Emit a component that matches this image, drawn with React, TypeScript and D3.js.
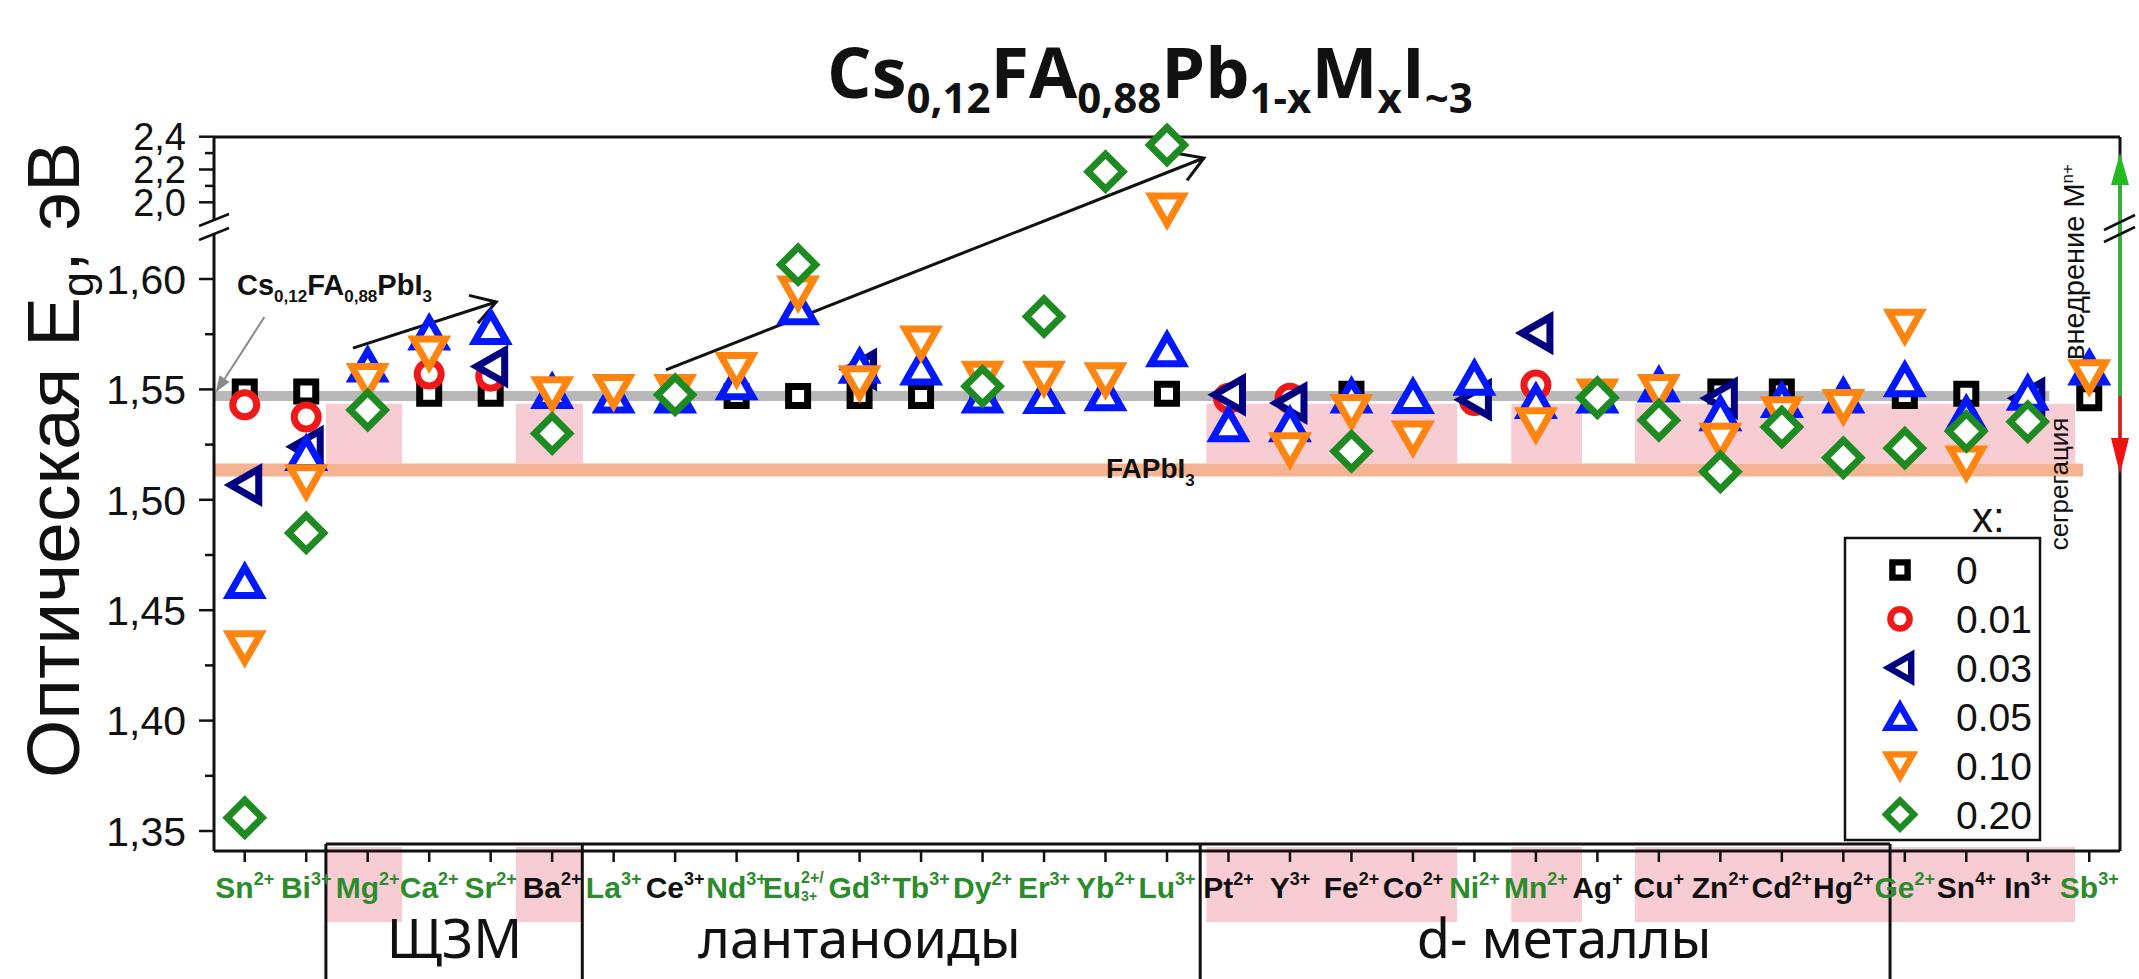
import React from "react";
import * as d3 from "d3";

// ---- categories (dopant ions) ----
const elements = ["Sn", "Bi", "Mg", "Ca", "Sr", "Ba", "La", "Ce", "Nd", "Eu", "Gd", "Tb", "Dy", "Er", "Yb", "Lu",
  "Pt", "Y", "Fe", "Co", "Ni", "Mn", "Ag", "Cu", "Zn", "Cd", "Hg", "Ge", "Sn", "In", "Sb"];
const charges = ["2+", "3+", "2+", "2+", "2+", "2+", "3+", "3+", "3+", "2+/3+", "3+", "3+", "2+", "3+", "2+", "3+",
  "2+", "3+", "2+", "2+", "2+", "2+", "+", "+", "2+", "2+", "2+", "2+", "4+", "3+", "3+"];
const categories = elements.map((e, i) => e + charges[i]);
const greenLabels = ["Sn2+", "Bi3+", "Mg2+", "Ca2+", "Sr2+", "La3+", "Nd3+", "Eu2+/3+", "Gd3+", "Tb3+", "Dy2+",
  "Er3+", "Yb2+", "Lu3+", "Ni2+", "Mn2+", "Ge2+", "Sb3+"];

// ---- optical band gap, eV, per dopant fraction x ----
const xLevels = ["0", "0.01", "0.03", "0.05", "0.10", "0.20"];
const egX000 = [1.549, 1.549, null, 1.548, 1.548, null, null, null, 1.547, 1.547, 1.547, 1.547, 1.547, null, null, 1.548,
  null, null, 1.548, null, null, null, null, null, 1.549, 1.549, null, 1.547, 1.548, null, 1.546];
const egX001 = [1.543, 1.5375, null, 1.557, 1.556, null, null, null, null, null, null, null, null, null, null, null,
  1.546, 1.546, null, null, 1.545, 1.552, null, null, null, null, null, null, null, null, null];
const egX003 = [1.5067, 1.524, null, null, 1.5604, null, null, null, null, null, 1.559, null, null, null, null, null,
  1.5476, 1.5438, null, null, 1.5453, 1.5755, null, null, 1.546, null, null, null, null, 1.546, null];
const egX005 = [1.463, 1.521, 1.561, 1.5755, 1.578, 1.549, 1.547, 1.547, 1.553, 1.587, 1.5605, 1.5597, 1.547, 1.5468, 1.548, 1.568,
  1.534, 1.534, 1.547, 1.5468, 1.5551, 1.5445, 1.547, 1.552, 1.539, 1.545, 1.547, 1.5544, 1.539, 1.5483, 1.5597];
const egX010 = [1.433, 1.5082, 1.554, 1.5665, null, 1.548, 1.549, 1.549, 1.559, 1.5937, 1.553, 1.571, 1.5551, 1.5551, 1.5544, 1.953,
  null, 1.5227, 1.54, 1.528, null, 1.534, 1.547, 1.549, 1.527, 1.539, 1.5423, 1.5786, 1.5167, null, 1.5557];
const egX020 = [1.356, 1.485, 1.5407, null, null, 1.53, null, 1.5476, null, 1.6065, null, null, 1.5514, 1.583, 2.187, 2.349,
  null, null, 1.522, null, null, null, 1.5462, 1.536, 1.5127, 1.533, 1.519, 1.5234, 1.531, 1.5354, null];
const seriesValues = [egX000, egX001, egX003, egX005, egX010, egX020];

// reference band gaps
const EG_CSFA = 1.547; // Cs0.12FA0.88PbI3
const EG_FAPBI3 = 1.5135;

// axis ticks
const lowMajor = [1.35, 1.4, 1.45, 1.5, 1.55, 1.6];
const lowMinor = [1.375, 1.425, 1.475, 1.525, 1.575];
const highMajor = [2.0, 2.2, 2.4];
const highMinor = [2.1, 2.3];

// dopant families
const familyNames = ["ЩЗМ", "лантаноиды", "d- металлы"];

// ---- layout ----
const W = 2139, H = 979;
const L = 214, R = 2120, T = 137, B = 851;
const seriesColor = ["#000000", "#f01818", "#000080", "#0018ff", "#ff8410", "#1e8a22"];
const seriesShape = ["square", "circle", "left", "up", "down", "diamond"];
const LABEL_GREEN = "#2b8c2b";
const FONT = "'Liberation Sans', Arial, Helvetica, sans-serif";

const x = d3.scalePoint<string>().domain(categories).range([L, R]).padding(0.5);
const step = x.step();
const x0 = x(categories[0]) as number;
const xi = (i: number) => x0 + i * step; // fractional category position
const yLow = d3.scaleLinear().domain([1.35, 1.6]).range([831, 279]);
const yHigh = d3.scaleLinear().domain([2.0, 2.4]).range([202.3, 136.7]);
const yv = (v: number) => (v > 1.75 ? yHigh(v) : yLow(v));

function shapePath(kind: string): string {
  switch (kind) {
    case "square": return "M-9.5,-9.5H9.5V9.5H-9.5Z";
    case "circle": return "M12,0A12,12 0 1,1 -12,0A12,12 0 1,1 12,0Z";
    case "left": return "M-14,0L14,-16L14,16Z";
    case "up": return "M0,-14L16,14L-16,14Z";
    case "down": return "M0,14L16,-14L-16,-14Z";
    default: return "M0,-17.5L17.5,0L0,17.5L-17.5,0Z";
  }
}

function openHead(x1: number, y1: number, x2: number, y2: number, len = 28, ang = 0.55) {
  const a = Math.atan2(y1 - y2, x1 - x2);
  const p1 = [x2 + len * Math.cos(a + ang), y2 + len * Math.sin(a + ang)];
  const p2 = [x2 + len * Math.cos(a - ang), y2 + len * Math.sin(a - ang)];
  return `M${p1[0]},${p1[1]}L${x2},${y2}L${p2[0]},${p2[1]}`;
}

function filledHead(x1: number, y1: number, x2: number, y2: number, len = 16, half = 6) {
  const a = Math.atan2(y2 - y1, x2 - x1);
  const bx = x2 - len * Math.cos(a), by = y2 - len * Math.sin(a);
  const nx = -Math.sin(a) * half, ny = Math.cos(a) * half;
  return `M${x2},${y2}L${bx + nx},${by + ny}L${bx - nx},${by - ny}Z`;
}

// trend arrows in data coordinates: [category position, Eg]
const trendArrows: [number, number, number, number][] = [
  [1.76, 1.5687, 4.09, 1.5896],
  [6.85, 1.5588, 15.6, 2.27],
];
// fractional category edges of highlight boxes and family frames
const highlightEdges: [number, number][] = [[1.32, 2.56], [4.41, 5.5], [15.64, 19.72], [20.6, 21.75], [22.61, 29.77]];
const familyEdges = [1.32, 5.49, 15.54, 26.76];
const familyTextPos = [3.41, 10.0, 21.46];

const fmtLow = (v: number) => v.toFixed(2).replace(".", ",");
const fmtHigh = (v: number) => v.toFixed(1).replace(".", ",");

export default function App() {
  const yTop = yLow(1.5435);
  const yBot = yLow(1.5165);
  const labelY = 898;
  return (
    <svg width={W} height={H} style={{ position: "absolute", left: 0, top: 0, background: "#fff" }} fontFamily={FONT}>
      <rect x={0} y={0} width={W} height={H} fill="#fff" />

      {/* title */}
      <text x={1150} y={98} textAnchor="middle" fontFamily="'Open Sans', 'Liberation Sans', sans-serif" fontWeight={700} fontSize={70} fill="#111">
        Cs<tspan fontSize={42} dy={15}>0,12</tspan>
        <tspan dy={-15}>FA</tspan><tspan fontSize={42} dy={15}>0,88</tspan>
        <tspan dy={-15}>Pb</tspan><tspan fontSize={42} dy={15}>1-x</tspan>
        <tspan dy={-15}>M</tspan><tspan fontSize={42} dy={15}>x</tspan>
        <tspan dy={-15}>I</tspan><tspan fontSize={42} dy={15}>~3</tspan>
      </text>

      {/* segregation zone highlights */}
      {highlightEdges.map(([a, b], i) => (
        <g key={"hl" + i}>
          <rect x={xi(a)} y={yTop} width={xi(b) - xi(a)} height={yBot - yTop} fill="#f7ccd3" />
          <rect x={xi(a)} y={847} width={xi(b) - xi(a)} height={75} fill="#f7ccd3" />
        </g>
      ))}

      {/* reference lines */}
      <line x1={L} x2={xi(29.9)} y1={yLow(EG_FAPBI3)} y2={yLow(EG_FAPBI3)} stroke="#f4b393" strokeWidth={13} />
      <line x1={L} x2={xi(29.35)} y1={yLow(EG_CSFA)} y2={yLow(EG_CSFA)} stroke="#b8b8b8" strokeWidth={10} />

      {/* frame */}
      <line x1={L} x2={R} y1={T} y2={T} stroke="#111" strokeWidth={3} />
      <line x1={L} x2={R} y1={B} y2={B} stroke="#111" strokeWidth={3} />
      <line x1={R} x2={R} y1={T} y2={B} stroke="#111" strokeWidth={3} />
      <line x1={L} x2={L} y1={T} y2={219} stroke="#111" strokeWidth={3} />
      <line x1={L} x2={L} y1={233} y2={B} stroke="#111" strokeWidth={3} />
      <line x1={199} y1={226} x2={229} y2={214} stroke="#111" strokeWidth={2.5} />
      <line x1={199} y1={240} x2={229} y2={228} stroke="#111" strokeWidth={2.5} />

      {/* y ticks and labels */}
      {lowMajor.map((v) => (
        <g key={"lM" + v}>
          <line x1={L - 15} x2={L} y1={yLow(v)} y2={yLow(v)} stroke="#111" strokeWidth={2.5} />
          <text x={186} y={yLow(v)} dy="0.36em" textAnchor="end" fontSize={41} fill="#111">{fmtLow(v)}</text>
        </g>
      ))}
      {lowMinor.map((v) => (
        <line key={"lm" + v} x1={L - 9} x2={L} y1={yLow(v)} y2={yLow(v)} stroke="#111" strokeWidth={2.5} />
      ))}
      {highMajor.map((v) => (
        <g key={"hM" + v}>
          <line x1={L - 15} x2={L} y1={yHigh(v)} y2={yHigh(v)} stroke="#111" strokeWidth={2.5} />
          <text x={186} y={yHigh(v)} dy="0.36em" textAnchor="end" fontSize={38} fill="#111"
            stroke="#fff" strokeWidth={3} paintOrder="stroke">{fmtHigh(v)}</text>
        </g>
      ))}
      {highMinor.map((v) => (
        <line key={"hm" + v} x1={L - 9} x2={L} y1={yHigh(v)} y2={yHigh(v)} stroke="#111" strokeWidth={2.5} />
      ))}

      {/* y axis title */}
      <text transform="translate(79,460) rotate(-90)" textAnchor="middle" fontSize={75} fill="#111">
        Оптическая E<tspan fontSize={45} dy={14}>g</tspan><tspan dy={-14}>, эВ</tspan>
      </text>

      {/* x ticks */}
      {categories.map((c) => (
        <line key={"xt" + c} x1={x(c)} x2={x(c)} y1={B} y2={B + 11} stroke="#111" strokeWidth={2.5} />
      ))}

      {/* family frames */}
      <line x1={xi(familyEdges[0])} x2={xi(familyEdges[3])} y1={844} y2={844} stroke="#111" strokeWidth={3} />
      {familyEdges.map((e, i) => (
        <line key={"fe" + i} x1={xi(e)} x2={xi(e)} y1={844} y2={H} stroke="#111" strokeWidth={3} />
      ))}

      {/* x labels */}
      {categories.map((c, i) => {
        const col = greenLabels.includes(c) ? LABEL_GREEN : "#111";
        if (charges[i] === "2+/3+") {
          return (
            <g key={"xl" + c} fill={col} fontWeight={700}>
              <text x={(x(c) as number) + 3} y={labelY} textAnchor="end" fontSize={30}>{elements[i]}</text>
              <text x={(x(c) as number) + 3} y={labelY - 15} fontSize={16}>2+/</text>
              <text x={(x(c) as number) + 3} y={labelY + 3} fontSize={14}>3+</text>
            </g>
          );
        }
        return (
          <text key={"xl" + c} x={x(c)} y={labelY} textAnchor="middle" fontWeight={700} fontSize={30} fill={col}>
            {elements[i]}<tspan fontSize={18} dy={-13}>{charges[i]}</tspan>
          </text>
        );
      })}

      {/* family names */}
      {familyNames.map((n, i) => (
        <text key={"fn" + i} x={xi(familyTextPos[i])} y={958} textAnchor="middle"
          fontFamily="'Noto Sans', 'Open Sans', sans-serif" fontSize={54} fill="#111">{n}</text>
      ))}

      {/* annotations */}
      <line x1={xi(0.32)} y1={yLow(1.5828)} x2={xi(-0.45)} y2={yLow(1.5495)} stroke="#8a8a8a" strokeWidth={2} />
      <path d={filledHead(xi(0.32), yLow(1.5828), xi(-0.47), yLow(1.5488))} fill="#8a8a8a" />
      <text x={237} y={295} fontWeight={700} fontSize={29} fill="#111">
        Cs<tspan fontSize={17} dy={7}>0,12</tspan><tspan dy={-7}>FA</tspan><tspan fontSize={17} dy={7}>0,88</tspan>
        <tspan dy={-7}>PbI</tspan><tspan fontSize={17} dy={7}>3</tspan>
      </text>
      {trendArrows.map(([a, va, b, vb], i) => {
        const xa = xi(a), ya = yv(va), xb = xi(b), yb = yv(vb);
        return (
          <g key={"ta" + i} stroke="#111" strokeWidth={3} fill="none">
            <line x1={xa} y1={ya} x2={xb} y2={yb} />
            <path d={openHead(xa, ya, xb, yb)} />
          </g>
        );
      })}
      <text x={1106} y={478} fontWeight={700} fontSize={28} fill="#111">
        FAPbI<tspan fontSize={17} dy={8}>3</tspan>
      </text>

      {/* data markers */}
      {seriesValues.map((vals, s) => (
        <g key={"s" + s} stroke={seriesColor[s]} strokeWidth={7} fill="#fff" strokeLinejoin="miter">
          {vals.map((v, i) => (v == null ? null : (
            <path key={i} d={shapePath(seriesShape[s])} transform={`translate(${x(categories[i])},${yv(v)})`} />
          )))}
        </g>
      ))}

      {/* right side: incorporation / segregation */}
      <line x1={R} x2={R} y1={yLow(EG_CSFA)} y2={180} stroke="#22bb22" strokeWidth={3} />
      <path d={filledHead(R, 200, R, 153, 32, 9)} fill="#22bb22" />
      <line x1={R} x2={R} y1={yLow(EG_CSFA)} y2={445} stroke="#ee1111" strokeWidth={3} />
      <path d={filledHead(R, 400, R, yLow(EG_FAPBI3) + 4, 36, 9)} fill="#ee1111" />
      <line x1={2104} y1={230} x2={2135} y2={215} stroke="#111" strokeWidth={2.5} />
      <line x1={2104} y1={242} x2={2135} y2={227} stroke="#111" strokeWidth={2.5} />
      <text transform="translate(2084,262) rotate(-90)" textAnchor="middle" fontSize={29} fill="#111">
        внедрение M<tspan fontSize={17} dy={-11}>n+</tspan>
      </text>
      <text transform="translate(2068,484) rotate(-90)" textAnchor="middle" fontSize={26} fill="#111">сегрегация</text>

      {/* legend */}
      <text x={1972} y={532} fontSize={42} fill="#111">x:</text>
      <rect x={1845} y={538} width={195} height={302} fill="#fff" stroke="#111" strokeWidth={2.5} />
      {xLevels.map((lv, s) => {
        const yy = 570 + s * 48.9;
        return (
          <g key={"lg" + s}>
            <path d={shapePath(seriesShape[s])} transform={`translate(1900,${yy}) scale(0.8)`}
              fill="#fff" stroke={seriesColor[s]} strokeWidth={8} />
            <text x={1956} y={yy} dy="0.36em" fontSize={39} fill="#111">{lv}</text>
          </g>
        );
      })}
    </svg>
  );
}
